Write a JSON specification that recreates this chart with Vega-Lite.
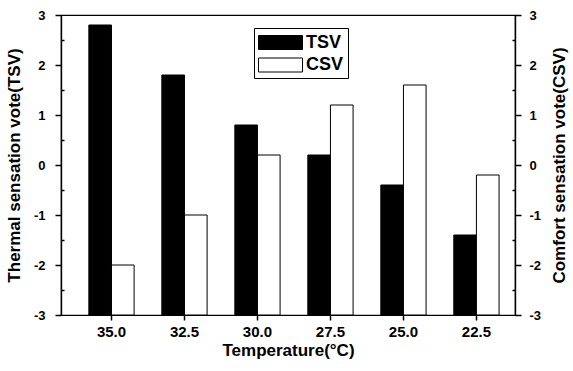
{
  "$schema": "https://vega.github.io/schema/vega-lite/v6.json",
  "width": 454,
  "height": 300,
  "autosize": {"type": "none"},
  "padding": {"left": 61, "top": 15, "right": 58, "bottom": 56},
  "background": "white",
  "config": {
    "view": {"stroke": "black", "strokeWidth": 1.2},
    "font": "Liberation Sans",
    "axis": {
      "labelFont": "Liberation Sans",
      "titleFont": "Liberation Sans",
      "labelFontWeight": "bold",
      "titleFontWeight": "bold",
      "labelColor": "black",
      "titleColor": "black",
      "domain": true,
      "domainColor": "black",
      "domainWidth": 1.2,
      "tickColor": "black",
      "tickWidth": 1.5,
      "grid": false
    }
  },
  "data": {
    "values": [
      {"temp": "35.0", "series": "TSV", "value": 2.8},
      {"temp": "32.5", "series": "TSV", "value": 1.8},
      {"temp": "30.0", "series": "TSV", "value": 0.8},
      {"temp": "27.5", "series": "TSV", "value": 0.2},
      {"temp": "25.0", "series": "TSV", "value": -0.4},
      {"temp": "22.5", "series": "TSV", "value": -1.4},
      {"temp": "35.0", "series": "CSV", "value": -2.0},
      {"temp": "32.5", "series": "CSV", "value": -1.0},
      {"temp": "30.0", "series": "CSV", "value": 0.2},
      {"temp": "27.5", "series": "CSV", "value": 1.2},
      {"temp": "25.0", "series": "CSV", "value": 1.6},
      {"temp": "22.5", "series": "CSV", "value": -0.2}
    ]
  },
  "encoding": {
    "x": {
      "field": "temp",
      "type": "nominal",
      "sort": ["35.0", "32.5", "30.0", "27.5", "25.0", "22.5"],
      "scale": {"paddingInner": 0.38, "paddingOuter": 0.3, "align": 0.636},
      "axis": {
        "title": "Temperature(°C)",
        "labelAngle": 0,
        "labelFontSize": 15,
        "labelPadding": 4,
        "tickSize": 5,
        "titleFontSize": 17,
        "titleBaseline": "alphabetic",
        "titleY": 40
      }
    },
    "xOffset": {"field": "series", "type": "nominal", "scale": {"domain": ["TSV", "CSV"], "paddingInner": 0, "paddingOuter": 0}}
  },
  "layer": [
    {
      "transform": [{"filter": "datum.series === 'TSV'"}],
      "mark": {"type": "bar", "stroke": "black", "strokeWidth": 1},
      "encoding": {
        "y": {
          "field": "value",
          "type": "quantitative",
          "scale": {"domain": [-3, 3], "nice": false, "zero": false},
          "axis": {
            "orient": "left",
            "title": "Thermal sensation vote(TSV)",
            "values": [-3, -2, -1, 0, 1, 2, 3],
            "labelExpr": "'' + datum.value",
            "tickSize": 6,
            "labelFontSize": 13,
            "labelPadding": 10,
            "titleFontSize": 17,
            "titleAngle": -90,
            "titleBaseline": "middle",
            "titleAlign": "center",
            "titleX": -47,
            "titleY": 150
          }
        },
        "y2": {"datum": -3},
        "color": {
          "field": "series",
          "type": "nominal",
          "scale": {"domain": ["TSV", "CSV"], "range": ["black", "white"]},
          "legend": {
            "title": null,
            "orient": "none",
            "legendX": 193,
            "legendY": 13,
            "direction": "vertical",
            "symbolType": "M-2.2,-0.7H2.2V0.7H-2.2Z",
            "symbolSize": 400,
            "symbolOffset": 12,
            "symbolStrokeColor": "black",
            "symbolStrokeWidth": 1,
            "labelOffset": 15,
            "labelFont": "Liberation Sans",
            "labelFontWeight": "bold",
            "labelFontSize": 18,
            "labelColor": "black",
            "rowPadding": 2.5,
            "padding": 4,
            "strokeColor": "black",
            "fillColor": "white"
          }
        }
      }
    },
    {
      "transform": [{"filter": "datum.series === 'CSV'"}],
      "mark": {"type": "bar", "stroke": "black", "strokeWidth": 1},
      "encoding": {
        "y": {
          "field": "value",
          "type": "quantitative",
          "scale": {"domain": [-3, 3], "nice": false, "zero": false},
          "axis": {
            "orient": "right",
            "title": "Comfort sensation vote(CSV)",
            "values": [-3, -2, -1, 0, 1, 2, 3],
            "labelExpr": "'' + datum.value",
            "tickSize": 6,
            "labelFontSize": 13,
            "labelPadding": 8,
            "titleFontSize": 17,
            "titleAngle": -90,
            "titleBaseline": "middle",
            "titleAlign": "center",
            "titleX": 44,
            "titleY": 150
          }
        },
        "y2": {"datum": -3},
        "color": {"field": "series", "type": "nominal"}
      }
    },
    {
      "mark": {"type": "bar", "opacity": 0},
      "encoding": {
        "y": {
          "field": "value",
          "type": "quantitative",
          "scale": {"domain": [-3, 3], "nice": false, "zero": false},
          "axis": {
            "orient": "left",
            "title": null,
            "values": [-2.5, -1.5, -0.5, 0.5, 1.5, 2.5],
            "labels": false,
            "tickSize": -3
          }
        },
        "y2": {"datum": -3}
      }
    },
    {
      "mark": {"type": "bar", "opacity": 0},
      "encoding": {
        "y": {
          "field": "value",
          "type": "quantitative",
          "scale": {"domain": [-3, 3], "nice": false, "zero": false},
          "axis": {
            "orient": "right",
            "title": null,
            "values": [-2.5, -1.5, -0.5, 0.5, 1.5, 2.5],
            "labels": false,
            "tickSize": -3
          }
        },
        "y2": {"datum": -3}
      }
    }
  ],
  "resolve": {"axis": {"y": "independent"}}
}
